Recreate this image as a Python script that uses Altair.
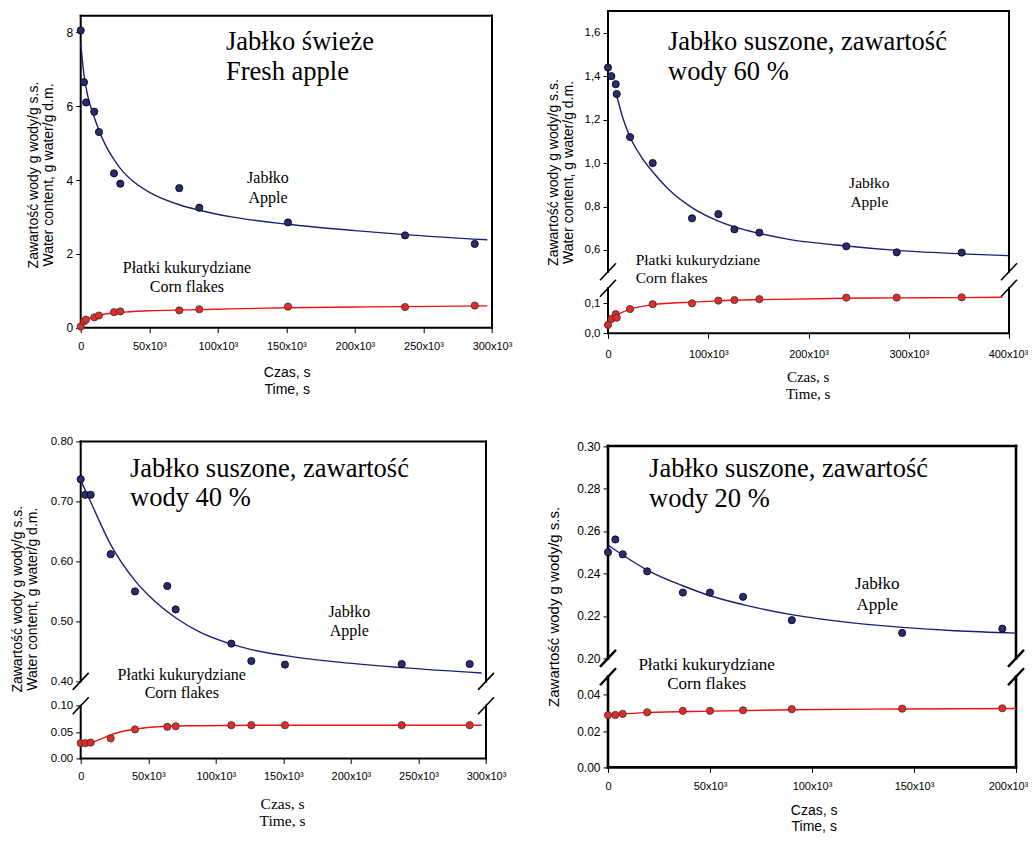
import altair as alt
import pandas as pd

# ---------------- data ----------------
# Panel 1: fresh apple
p1_time = [0, 2400, 3900, 9900, 13300, 24300, 28900, 71900, 86500, 151200, 236600, 287400]
p1_apple = [8.05, 6.65, 6.1, 5.85, 5.3, 4.18, 3.9, 3.78, 3.25, 2.85, 2.5, 2.27]
p1_corn = [0.03, 0.17, 0.22, 0.28, 0.33, 0.42, 0.44, 0.47, 0.5, 0.57, 0.56, 0.6]
p1_apple_fit_t = [0, 2400, 5000, 9900, 13300, 18000, 24300, 31000, 38400, 50500, 71900, 86500, 110000, 151200, 200000, 236600, 296600]
p1_apple_fit = [7.7, 6.85, 6.3, 5.7, 5.35, 4.95, 4.55, 4.22, 3.96, 3.66, 3.33, 3.18, 3.0, 2.8, 2.63, 2.52, 2.38]
p1_corn_fit_t = [0, 2400, 5000, 9900, 13300, 18000, 24300, 31000, 38400, 50500, 71900, 86500, 110000, 151200, 200000, 236600, 296600]
p1_corn_fit = [0.03, 0.16, 0.23, 0.29, 0.33, 0.37, 0.40, 0.42, 0.44, 0.46, 0.48, 0.49, 0.51, 0.54, 0.56, 0.57, 0.59]

# Panel 2: dried apple, 60 % water
p2_time = [0, 3360, 7700, 8700, 22000, 44600, 83800, 110100, 126100, 151000, 237700, 288000, 352800]
p2_apple = [1.44, 1.40, 1.363, 1.318, 1.12, 1.0, 0.746, 0.765, 0.695, 0.68, 0.617, 0.589, 0.588]
p2_corn = [0.028, 0.048, 0.064, 0.052, 0.081, 0.097, 0.1, 0.109, 0.111, 0.114, 0.119, 0.119, 0.12]
p2_apple_fit_t = [8700, 15000, 22000, 33000, 44600, 62500, 83800, 110100, 126100, 151000, 179000, 237700, 288000, 352800, 399000]
p2_apple_fit = [1.31, 1.205, 1.12, 1.03, 0.96, 0.87, 0.795, 0.733, 0.706, 0.676, 0.65, 0.618, 0.598, 0.582, 0.574]
p2_corn_fit_t = [0, 3360, 8700, 22000, 44600, 83800, 110100, 151000, 237700, 288000, 352800, 393400]
p2_corn_fit = [0.03, 0.046, 0.06, 0.08, 0.095, 0.104, 0.108, 0.112, 0.117, 0.118, 0.119, 0.12]

# Panel 3: dried apple, 40 % water
p3_time = [0, 3400, 7400, 22200, 40200, 64100, 70300, 111500, 126300, 151200, 237600, 287900]
p3_apple = [0.737, 0.711, 0.711, 0.612, 0.55, 0.559, 0.52, 0.463, 0.434, 0.428, 0.429, 0.429]
p3_corn = [0.029, 0.029, 0.030, 0.038, 0.055, 0.060, 0.061, 0.063, 0.063, 0.063, 0.063, 0.063]
p3_apple_fit_t = [0, 7400, 22200, 40200, 51300, 70300, 88300, 111500, 126300, 151200, 187000, 237600, 296800]
p3_apple_fit = [0.735, 0.699, 0.628, 0.568, 0.541, 0.506, 0.482, 0.462, 0.453, 0.443, 0.433, 0.423, 0.414]
p3_corn_fit_t = [0, 7400, 14300, 21700, 29100, 39000, 51300, 63700, 88300, 150000, 296800]
p3_corn_fit = [0.029, 0.030, 0.036, 0.044, 0.050, 0.055, 0.059, 0.061, 0.062, 0.063, 0.063]

# Panel 4: dried apple, 20 % water
p4_time = [0, 3600, 7200, 19200, 36700, 50000, 66200, 90100, 144200, 193300]
p4_apple = [0.250, 0.256, 0.249, 0.241, 0.231, 0.231, 0.229, 0.218, 0.212, 0.214]
p4_corn = [0.0288, 0.0289, 0.0295, 0.0304, 0.0312, 0.0312, 0.0315, 0.0321, 0.0324, 0.0326]
p4_apple_fit_t = [0, 7200, 19200, 36700, 50000, 66200, 90100, 120900, 144200, 170000, 200000]
p4_apple_fit = [0.2534, 0.2487, 0.2416, 0.2342, 0.2295, 0.2253, 0.2206, 0.2166, 0.2146, 0.2130, 0.2119]
p4_corn_fit_t = [0, 7200, 19200, 50000, 90100, 144200, 200000]
p4_corn_fit = [0.0289, 0.0295, 0.0302, 0.0310, 0.0318, 0.0322, 0.0325]

x_title = ["Czas, s", "Time, s"]
y_title_2 = ["Zawartość wody g wody/g s.s.", "Water content, g water/g d.m."]
y_title_1 = "Zawartość wody g wody/g s.s."
apple_label = "Jabłko\nApple"
corn_label = "Płatki kukurydziane\nCorn flakes"

SANS = "Liberation Sans"
SERIF = "Liberation Serif"
BLUE_FILL = "#2a2c6f"
BLUE_LINE = "#1b1f78"
RED_FILL = "#e52a2a"
RED_LINE = "#ee1111"

XLAB = "datum.value == 0 ? '0' : format(datum.value / 1000, 'd') + 'x10³'"


def make_panel(c):
    xmax = c["xmax"]
    ydom = c["ydom"]
    xs = alt.Scale(domain=[0, xmax], nice=False, zero=False)
    ys = alt.Scale(domain=ydom, range=c["yrange"], nice=False, zero=False)
    xaxis = alt.Axis(
        values=c["xticks"], labelExpr=XLAB, grid=False, domain=False,
        tickSize=5, tickColor="black", tickWidth=1,
        labelFont=SANS, labelFontSize=11, labelColor="black",
        labelPadding=c["xlabpad"], labelFlush=False, labelOverlap=False,
        labelOffset={"condition": {"test": "datum.value == %d" % xmax, "value": c["lastoff"]}, "value": 0},
        title=x_title, titleFont=c["xtfont"], titleFontSize=c["xtsize"],
        titleFontWeight="normal", titleColor="black",
        titleX=c["xtx"], titleY=c["xty"], titleAlign="center",
        titleBaseline="alphabetic", titleLineHeight=c["xtlh"],
    )
    yaxis = alt.Axis(
        values=c["yticks"], labelExpr=c["ylabexpr"], grid=False, domain=False,
        tickSize=5, tickColor="black", tickWidth=1,
        labelFont=SANS, labelFontSize=c["ylabsize"], labelColor="black",
        labelPadding=3, labelFlush=False, labelOverlap=False,
        title=c["ytitle"], titleFont=SANS, titleFontSize=c["ytsize"],
        titleFontWeight="normal", titleColor="black", titleAngle=270,
        titleX=c["ytx"], titleY=c["yty"], titleAlign="center",
        titleBaseline="alphabetic", titleLineHeight=c["ytlh"],
    )
    X = alt.X("t:Q", scale=xs, axis=xaxis)
    Y = alt.Y("v:Q", scale=ys, axis=yaxis)

    top = ydom[-1]
    if len(ydom) == 2:
        segs = [(0, xmax, top, top), (0, xmax, 0, 0), (0, 0, 0, top), (xmax, xmax, 0, top)]
        brk = []
    else:
        lo, up = ydom[1], ydom[2]
        segs = [(0, xmax, top, top), (0, xmax, 0, 0),
                (0, 0, 0, lo), (0, 0, up, top),
                (xmax, xmax, 0, lo), (xmax, xmax, up, top)]
        brk = [(0, lo), (0, up), (xmax, lo), (xmax, up)]
    frame_df = pd.DataFrame(segs, columns=["t", "t2", "v", "v2"])
    frame = alt.Chart(frame_df).mark_rule(color="black", strokeWidth=c["framew"], strokeCap="square").encode(
        x=X, x2="t2:Q", y=Y, y2="v2:Q")

    layers = [frame]
    if brk:
        bdf = pd.DataFrame(brk, columns=["t", "v"])
        bdf["t2"] = bdf["t"]
        bdf["v2"] = bdf["v"]
        slash = alt.Chart(bdf).mark_rule(
            color="black", strokeWidth=c["slashw"],
            xOffset=-8, x2Offset=8, yOffset=8.5, y2Offset=-8.5).encode(
            x=X, x2="t2:Q", y=Y, y2="v2:Q")
        layers.append(slash)

    fa = pd.DataFrame({"t": c["afit_t"], "v": c["afit"]})
    fc = pd.DataFrame({"t": c["cfit_t"], "v": c["cfit"]})
    layers.append(alt.Chart(fa).mark_line(color=BLUE_LINE, strokeWidth=1.4, interpolate="monotone").encode(x=X, y=Y))
    layers.append(alt.Chart(fc).mark_line(color=RED_LINE, strokeWidth=1.4, interpolate="monotone").encode(x=X, y=Y))
    pa = pd.DataFrame({"t": c["time"], "v": c["apple"]})
    pc = pd.DataFrame({"t": c["time"], "v": c["corn"]})
    layers.append(alt.Chart(pa).mark_circle(size=52, color=BLUE_FILL, opacity=1, stroke="black", strokeWidth=0.8).encode(x=X, y=Y))
    layers.append(alt.Chart(pc).mark_circle(size=52, color=RED_FILL, opacity=1, stroke="#333333", strokeWidth=0.8).encode(x=X, y=Y))

    for (txt, t, v, align, size, lh) in c["texts"]:
        tdf = pd.DataFrame({"t": [t], "v": [v], "label": [txt]})
        layers.append(alt.Chart(tdf).mark_text(
            align=align, baseline="alphabetic", font=SERIF, fontSize=size,
            lineBreak="\n", lineHeight=lh, color="black").encode(x=X, y=Y, text="label:N"))

    return alt.layer(*layers).properties(width=c["W"], height=c["H"])


p1 = make_panel(dict(
    W=411.3, H=316.7, xmax=300000, xticks=[0, 50000, 100000, 150000, 200000, 250000, 300000],
    ydom=[0, 8.45], yrange=[316.7, 4.7], yticks=[0, 2, 4, 6, 8],
    ylabexpr="format(datum.value, 'd')", ylabsize=12,
    ytitle=y_title_2, ytsize=14, ytlh=15, ytx=-43.2, yty=163.5,
    xtfont=SANS, xtsize=14, xtlh=17, xtx=206, xty=48.3, xlabpad=8, slashw=1.6, framew=2, lastoff=0,
    time=p1_time, apple=p1_apple, corn=p1_corn,
    afit_t=p1_apple_fit_t, afit=p1_apple_fit, cfit_t=p1_corn_fit_t, cfit=p1_corn_fit,
    texts=[("Jabłko świeże\nFresh apple", 106000, 7.53, "left", 26.5, 30),
           (apple_label, 136600, 3.92, "center", 16, 20),
           (corn_label, 77500, 1.474, "center", 16, 19)],
))

p2 = make_panel(dict(
    W=401, H=322.3, xmax=400000, xticks=[0, 100000, 200000, 300000, 400000],
    ydom=[0, 0.15, 0.5, 1.7], yrange=[322.3, 277.3, 260.7, 0],
    yticks=[0, 0.1, 0.6, 0.8, 1.0, 1.2, 1.4, 1.6],
    ylabexpr="replace(format(datum.value, '.1f'), '.', ',')", ylabsize=11.5,
    ytitle=y_title_2, ytsize=14, ytlh=15, ytx=-50.5, yty=161,
    xtfont=SERIF, xtsize=15, xtlh=17, xtx=199.7, xty=48.4, xlabpad=10, slashw=1.6, framew=2, lastoff=-1,
    time=p2_time, apple=p2_apple, corn=p2_corn,
    afit_t=p2_apple_fit_t, afit=p2_apple_fit, cfit_t=p2_corn_fit_t, cfit=p2_corn_fit,
    texts=[("Jabłko suszone, zawartość\nwody 60 %", 59850, 1.5205, "left", 26.5, 30),
           (apple_label, 260700, 0.884, "center", 15.5, 18.5),
           (corn_label, 27600, 0.531, "left", 15.5, 17.7)],
))

p3 = make_panel(dict(
    W=405.3, H=317, xmax=300000, xticks=[0, 50000, 100000, 150000, 200000, 250000, 300000],
    ydom=[0, 0.1, 0.4, 0.8], yrange=[317, 264.3, 240, 0],
    yticks=[0, 0.05, 0.1, 0.4, 0.5, 0.6, 0.7, 0.8],
    ylabexpr="format(datum.value, '.2f')", ylabsize=11.5,
    ytitle=y_title_2, ytsize=14, ytlh=15, ytx=-59.5, yty=157.3,
    xtfont=SERIF, xtsize=15.5, xtlh=17.7, xtx=201.3, xty=49.6, xlabpad=7, slashw=1.6, framew=2, lastoff=0,
    time=p3_time, apple=p3_apple, corn=p3_corn,
    afit_t=p3_apple_fit_t, afit=p3_apple_fit, cfit_t=p3_corn_fit_t, cfit=p3_corn_fit,
    texts=[("Jabłko suszone, zawartość\nwody 40 %", 36500, 0.741, "left", 26.5, 29.5),
           (apple_label, 198800, 0.507, "center", 16, 19),
           (corn_label, 74800, 0.4023, "center", 16, 18)],
))

p4 = make_panel(dict(
    W=408, H=326, xmax=200000, xticks=[0, 50000, 100000, 150000, 200000],
    ydom=[0, 0.05, 0.2, 0.3], yrange=[326, 235.3, 217, 4.6],
    yticks=[0, 0.02, 0.04, 0.2, 0.22, 0.24, 0.26, 0.28, 0.3],
    ylabexpr="format(datum.value, '.2f')", ylabsize=12,
    ytitle=y_title_1, ytsize=15, ytlh=15, ytx=-49.8, yty=165,
    xtfont=SANS, xtsize=14, xtlh=16, xtx=205.7, xty=47.3, xlabpad=8, slashw=2.4, framew=2.6, lastoff=-8,
    time=p4_time, apple=p4_apple, corn=p4_corn,
    afit_t=p4_apple_fit_t, afit=p4_apple_fit, cfit_t=p4_corn_fit_t, cfit=p4_corn_fit,
    texts=[("Jabłko suszone, zawartość\nwody 20 %", 20150, 0.2855, "left", 26.5, 30),
           (apple_label, 132000, 0.2327, "center", 17, 21),
           (corn_label, 48350, 0.105, "center", 17, 19.4)],
))

chart = alt.concat(
    p1, p2, p3, p4, columns=2,
    spacing={"row": 107.4, "column": 115.3}, bounds="flush",
).properties(
    autosize=alt.AutoSizeParams(type="none"),
    padding={"left": 72.7, "top": 3, "right": 947.3, "bottom": 824},
    background="white",
).configure_view(stroke=None)

chart.save("out.html", embed_options={"renderer": "svg", "actions": False})
